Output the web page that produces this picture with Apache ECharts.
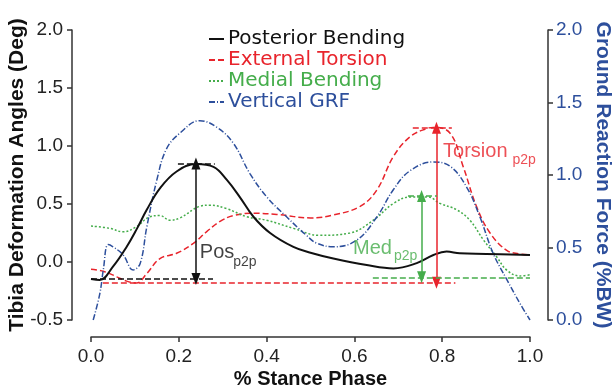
<!DOCTYPE html>
<html>
<head>
<meta charset="utf-8">
<script src="https://cdn.jsdelivr.net/npm/echarts@6/dist/echarts.min.js"></script>
<style>
html,body{margin:0;padding:0;background:#fff;}
#c{width:614px;height:389px;}
</style>
</head>
<body>
<div id="c"></div>
<script>
// ---- data ----
const posX = [0, 0.02, 0.05, 0.081, 0.105, 0.127, 0.157, 0.195, 0.24, 0.279, 0.309, 0.339, 0.37, 0.408, 0.461, 0.5, 0.552, 0.628, 0.689, 0.742, 0.78, 0.81, 0.84, 0.9, 1.0];
const posY = [-0.147, -0.155, -0.04, 0.13, 0.29, 0.45, 0.635, 0.78, 0.845, 0.82, 0.71, 0.56, 0.39, 0.25, 0.13, 0.08, 0.03, -0.026, -0.055, -0.01, 0.06, 0.09, 0.075, 0.07, 0.06];

const torX = [0, 0.028, 0.06, 0.081, 0.104, 0.127, 0.157, 0.195, 0.233, 0.263, 0.294, 0.324, 0.37, 0.423, 0.5, 0.552, 0.613, 0.651, 0.689, 0.727, 0.764, 0.78, 0.818, 0.848, 0.878, 0.909, 0.947, 0.977, 1.0];
const torY = [-0.063, -0.08, -0.13, -0.165, -0.18, -0.1, 0.03, 0.075, 0.16, 0.26, 0.35, 0.4, 0.42, 0.41, 0.38, 0.405, 0.48, 0.62, 0.91, 1.08, 1.15, 1.16, 1.11, 0.82, 0.48, 0.25, 0.10, 0.07, 0.06];

const medX = [0, 0.043, 0.073, 0.104, 0.134, 0.157, 0.18, 0.203, 0.248, 0.271, 0.309, 0.355, 0.4, 0.461, 0.52, 0.59, 0.643, 0.689, 0.727, 0.768, 0.795, 0.833, 0.863, 0.894, 0.924, 0.947, 0.977, 1.0];
const medY = [0.31, 0.29, 0.26, 0.305, 0.39, 0.40, 0.36, 0.38, 0.48, 0.49, 0.46, 0.39, 0.36, 0.29, 0.23, 0.25, 0.36, 0.505, 0.56, 0.56, 0.505, 0.45, 0.36, 0.19, 0.045, -0.07, -0.12, -0.11];

const grfX = [0.005, 0.02, 0.028, 0.039, 0.05, 0.073, 0.096, 0.112, 0.127, 0.15, 0.172, 0.203, 0.248, 0.286, 0.324, 0.362, 0.4, 0.446, 0.49, 0.514, 0.552, 0.605, 0.651, 0.689, 0.727, 0.78, 0.818, 0.855, 0.886, 0.916, 0.947, 0.977, 1.0];
const grfY = [0, 0.18, 0.345, 0.52, 0.505, 0.45, 0.345, 0.39, 0.64, 0.966, 1.18, 1.29, 1.375, 1.33, 1.22, 1.01, 0.85, 0.71, 0.586, 0.53, 0.505, 0.55, 0.71, 0.9, 1.03, 1.09, 1.06, 0.92, 0.71, 0.46, 0.28, 0.115, 0];

const seriesNames = ['Posterior Bending', 'External Torsion', 'Medial Bending', 'Vertical GRF'];

// peak-to-peak annotations
const posP2P = { x: 0.239, peak: 0.85, base: -0.147, peakFrom: 0.198, peakTo: 0.282, baseFrom: 0.0, baseTo: 0.278 };
const torP2P = { x: 0.787, peak: 1.158, base: -0.178, peakFrom: 0.733, peakTo: 0.822, baseFrom: 0.027, baseTo: 0.83 };
const medP2P = { x: 0.753, peak: 0.57, base: -0.132, peakFrom: 0.722, peakTo: 0.788, baseFrom: 0.642, baseTo: 1.0 };

// label anchors [x, y] for main text and subscript
const posLabel = { main: [0.248, 0.078], sub: [0.324, 0.0] };
const torLabel = { main: [0.802, 0.955], sub: [0.96, 0.88] };
const medLabel = { main: [0.597, 0.12], sub: [0.69, 0.05] };

// ---- build ----
const zip = (xs, ys) => xs.map((x, i) => [x, ys[i]]);
const C = { black: '#111111', red: '#e8242c', green: '#45ad4b', blue: '#2d4f9c' };
const FONT = 'Liberation Sans, Arial, sans-serif';
const WIDE = 'DejaVu Sans, sans-serif';

function p2pMarks(a, color) {
  const dash = { type: [6, 3], width: 1.5, color: color };
  return {
    silent: true,
    label: { show: false },
    animation: false,
    data: [
      [{ coord: [a.peakFrom, a.peak], symbol: 'none', lineStyle: dash }, { coord: [a.peakTo, a.peak], symbol: 'none' }],
      [{ coord: [a.baseFrom, a.base], symbol: 'none', lineStyle: dash }, { coord: [a.baseTo, a.base], symbol: 'none' }],
      [{ coord: [a.x, a.peak], symbol: 'triangle', symbolSize: [9, 12], lineStyle: { type: 'solid', width: 1.5, color: color } },
       { coord: [a.x, a.base], symbol: 'triangle', symbolSize: [9, 12] }]
    ]
  };
}

function labelSeries(lbl, mainText, subText, color) {
  return {
    type: 'scatter', symbolSize: 0, silent: true, z: 5,
    data: [
      { value: lbl.main, label: { show: true, position: 'right', distance: 0, formatter: mainText, color: color, fontSize: 20, fontFamily: FONT } },
      { value: lbl.sub, label: { show: true, position: 'right', distance: 0, formatter: subText, color: color, fontSize: 14, fontFamily: FONT } }
    ]
  };
}

const lineColors = [C.black, C.red, C.green, C.blue];
const axisLineStyle = { color: '#333', width: 1.5 };

const option = {
  animation: false,
  backgroundColor: '#ffffff',
  textStyle: { fontFamily: FONT },
  grid: { left: 91, right: 84, top: 30, bottom: 69, outerBoundsMode: 'none', containLabel: false },
  legend: {
    orient: 'vertical', left: 203, top: 24, itemGap: 1,
    itemWidth: 15, itemHeight: 10,
    itemStyle: { opacity: 0 },
    textStyle: { fontSize: 20, fontFamily: WIDE, padding: [0, 0, 0, -1] },
    data: seriesNames.map((n, i) => ({ name: n, textStyle: { color: lineColors[i] } }))
  },
  xAxis: {
    type: 'value', min: 0, max: 1, interval: 0.2, offset: 17,
    name: '% Stance Phase', nameLocation: 'middle', nameGap: 32, nameMoveOverlap: false,
    nameTextStyle: { fontSize: 20, fontWeight: 'bold', color: '#111', fontFamily: FONT },
    axisLine: { show: true, onZero: false, lineStyle: axisLineStyle },
    axisTick: { show: true, length: 5, lineStyle: axisLineStyle },
    axisLabel: { fontSize: 19, color: '#222', margin: 10, formatter: v => v.toFixed(1) },
    splitLine: { show: false }
  },
  yAxis: [
    {
      type: 'value', min: -0.5, max: 2.0, interval: 0.5, offset: 19, position: 'left',
      name: 'Tibia Deformation Angles (Deg)', nameLocation: 'middle', nameGap: 44, nameRotate: 90, nameMoveOverlap: false,
      nameTextStyle: { fontSize: 21, fontWeight: 'bold', color: '#111', fontFamily: FONT },
      axisLine: { show: true, onZero: false, lineStyle: axisLineStyle },
      axisTick: { show: true, length: 5, lineStyle: axisLineStyle },
      axisLabel: { fontSize: 19, color: '#222', margin: 9, formatter: v => v.toFixed(1) },
      splitLine: { show: false }
    },
    {
      type: 'value', min: 0, max: 2.0, interval: 0.5, offset: 18, position: 'right',
      name: 'Ground Reaction Force (%BW)', nameLocation: 'middle', nameGap: 44, nameRotate: -90, nameMoveOverlap: false,
      nameTextStyle: { fontSize: 21, fontWeight: 'bold', color: C.blue, fontFamily: FONT },
      axisLine: { show: true, onZero: false, lineStyle: axisLineStyle },
      axisTick: { show: true, length: 5, lineStyle: axisLineStyle },
      axisLabel: { fontSize: 19, color: C.blue, margin: 8, formatter: v => v.toFixed(1) },
      splitLine: { show: false }
    }
  ],
  series: [
    { name: seriesNames[1], type: 'line', smooth: 0.4, symbol: 'none', data: zip(torX, torY), color: C.red,
      lineStyle: { color: C.red, width: 1.5, type: [6, 3] }, markLine: p2pMarks(torP2P, C.red), z: 3 },
    { name: seriesNames[2], type: 'line', smooth: 0.4, symbol: 'none', data: zip(medX, medY), color: C.green,
      lineStyle: { color: C.green, width: 1.5, type: [2, 2] }, markLine: p2pMarks(medP2P, C.green), z: 3 },
    { name: seriesNames[3], type: 'line', smooth: 0.4, symbol: 'none', yAxisIndex: 1, data: zip(grfX, grfY), color: C.blue,
      lineStyle: { color: C.blue, width: 1.5, type: [6, 2, 1, 2] }, z: 3 },
    { name: seriesNames[0], type: 'line', smooth: 0.4, symbol: 'none', data: zip(posX, posY), color: C.black,
      lineStyle: { color: C.black, width: 2 }, markLine: p2pMarks(posP2P, C.black), z: 4 },
    labelSeries(posLabel, 'Pos', 'p2p', '#111'),
    labelSeries(torLabel, 'Torsion', 'p2p', C.red),
    labelSeries(medLabel, 'Med', 'p2p', C.green)
  ]
};

const chart = echarts.init(document.getElementById('c'), null, { renderer: 'canvas' });
chart.setOption(option);
</script>
</body>
</html>
